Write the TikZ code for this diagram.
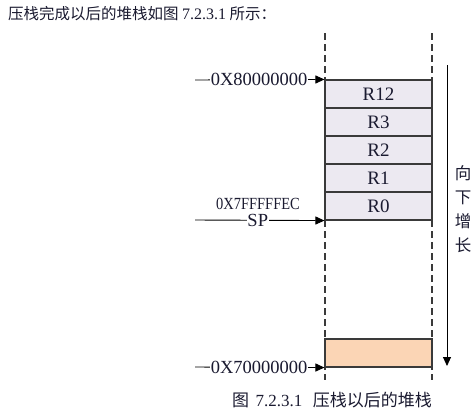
\documentclass[tikz,border=0pt]{standalone}
\usepackage{fontspec}
\setmainfont{Liberation Serif}
\newfontfamily\cjk{Noto Sans CJK SC}
\newfontfamily\narrowser[FakeStretch=0.85]{Liberation Serif}
\usetikzlibrary{arrows.meta}
\definecolor{cellfill}{HTML}{ECE9F1}
\definecolor{peach}{HTML}{FBD5B5}
\definecolor{edge}{HTML}{3A3A3A}
\definecolor{txt}{HTML}{1A1A30}
\tikzset{
  cell/.style={draw=edge, line width=1.1pt, fill=cellfill, minimum width=107pt, minimum height=28pt, inner sep=0pt, text=txt, font=\fontsize{19}{20}\selectfont},
  guide/.style={draw=edge, line width=1.2pt, dash pattern=on 7pt off 4pt},
  ptr/.style={draw=black, line width=0.9pt, -{Triangle[length=9pt,width=8pt]}},
  addr/.style={fill=white, inner sep=1pt, text=txt, font=\fontsize{18.5}{20}\selectfont},
  cjktext/.style={text=txt, font=\cjk\fontsize{15.5}{17}\selectfont, inner sep=0pt},
}
\begin{document}
\begin{tikzpicture}[x=1pt, y=-1pt]
\useasboundingbox (0,0) rectangle (476,416);
% header
\node[cjktext, anchor=west] (hdr) at (8,14) {压栈完成以后的堆栈如图\ {\rmfamily\fontsize{16}{17}\selectfont 7.2.3.1}\ 所示：};
% dashed guides
\coordinate (gl1) at (325,33); \coordinate (gl2) at (325,380);
\coordinate (gr1) at (432,33); \coordinate (gr2) at (432,380);
\draw[guide] (gl1) -- (gl2);
\draw[guide] (gr1) -- (gr2);
% stack cells
\node[cell] (r12) at (378.5,94) {R12};
\node[cell] (r3) at (378.5,122) {R3};
\node[cell] (r2) at (378.5,150) {R2};
\node[cell] (r1) at (378.5,178) {R1};
\node[cell] (r0) at (378.5,206) {R0};
\node[cell, fill=peach] (low) at (378.5,353) {};
% pointer arrows
\coordinate (s1) at (195,80);
\coordinate (s2) at (195,220);
\coordinate (s3) at (195,367);
\draw[ptr] (s1) -- node[addr, pos=0.495] (a8) {0X80000000} (r12.north west);
\draw[ptr] (s2) -- node[addr, pos=0.485, inner sep=0.5pt] (sp) {SP} (r0.south west);
\node[text=txt, font=\narrowser\fontsize{17}{18}\selectfont, inner sep=0pt] (a7f) at (258,204) {0X7FFFFFEC};
\draw[ptr] (s3) -- node[addr, pos=0.495] (a7) {0X70000000} (low.south west);
% growth direction
\coordinate (g1) at (447,65);
\coordinate (g2) at (447,366);
\draw[ptr] (g1) -- (g2);
\node[cjktext, align=center, font=\cjk\fontsize{16.5}{24}\selectfont] (grow) at (463,209) {向\\下\\增\\长};
% caption
\node[cjktext, font=\cjk\fontsize{17}{18}\selectfont] (cap) at (332,400) {图\ \,{\rmfamily\fontsize{17}{18}\selectfont 7.2.3.1}\ \ \,压栈以后的堆栈};
\end{tikzpicture}
\end{document}
